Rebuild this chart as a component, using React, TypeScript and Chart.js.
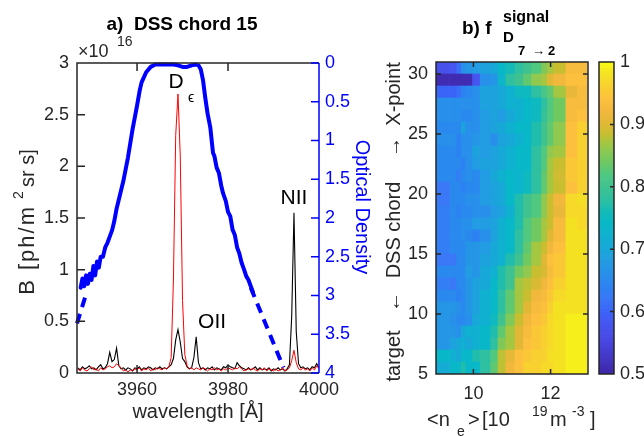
import React, { useEffect, useRef } from 'react';
import { Chart, registerables } from 'chart.js';

Chart.register(...registerables);

const FONT = '"Liberation Sans", Arial, Helvetica, sans-serif';
const AXIS = '#262626';
const BLUE = '#0000ff';

// ---------- panel a) spectrum ----------
const wavelengths = [
  3947, 3947.5, 3948, 3948.5, 3949, 3949.5, 3950, 3950.5, 3951, 3951.5,
  3952, 3952.5, 3953, 3953.5, 3954, 3954.5, 3955, 3955.5, 3956, 3956.5,
  3957, 3957.5, 3958, 3958.5, 3959, 3959.5, 3960, 3960.5, 3961, 3961.5,
  3962, 3962.5, 3963, 3963.5, 3964, 3964.5, 3965, 3965.5, 3966, 3966.5,
  3967, 3967.5, 3968, 3968.5, 3969, 3969.5, 3970, 3970.5, 3971, 3971.5,
  3972, 3972.5, 3973, 3973.5, 3974, 3974.5, 3975, 3975.5, 3976, 3976.5,
  3977, 3977.5, 3978, 3978.5, 3979, 3979.5, 3980, 3980.5, 3981, 3981.5,
  3982, 3982.5, 3983, 3983.5, 3984, 3984.5, 3985, 3985.5, 3986, 3986.5,
  3987, 3987.5, 3988, 3988.5, 3989, 3989.5, 3990, 3990.5, 3991, 3991.5,
  3992, 3992.5, 3993, 3993.5, 3994, 3994.5, 3995, 3995.5, 3996, 3996.5,
  3997, 3997.5, 3998, 3998.5, 3999, 3999.5, 4000,
];
const blackSpectrum = [
  0.05, 0.03, 0.06, 0.04, 0.05, 0.07, 0.04, 0.05, 0.03, 0.06,
  0.08, 0.04, 0.05, 0.09, 0.20, 0.11, 0.13, 0.24, 0.07, 0.04,
  0.05, 0.03, 0.05, 0.04, 0.02, 0.05, 0.04, 0.06, 0.03, 0.05,
  0.04, 0.06, 0.05, 0.03, 0.05, 0.04, 0.06, 0.04, 0.05, 0.04,
  0.06, 0.08, 0.14, 0.32, 0.42, 0.30, 0.14, 0.11, 0.06, 0.04,
  0.05, 0.15, 0.35, 0.10, 0.04, 0.05, 0.03, 0.05, 0.04, 0.06,
  0.03, 0.05, 0.04, 0.03, 0.06, 0.05, 0.08, 0.06, 0.05, 0.04,
  0.10, 0.07, 0.05, 0.04, 0.03, 0.05, 0.03, 0.04, 0.06, 0.03,
  0.05, 0.03, 0.04, 0.03, 0.05, 0.02, 0.04, 0.03, 0.05, 0.03,
  0.04, 0.02, 0.04, 0.08, 0.55, 1.55, 0.40, 0.09, 0.05, 0.06,
  0.04, 0.05, 0.03, 0.06, 0.05, 0.09, 0.05,
];
const redSpectrum = [
  0.04, 0.02, 0.05, 0.03, 0.02, 0.04, 0.06, 0.03, 0.04, 0.02,
  0.05, 0.03, 0.04, 0.06, 0.07, 0.05, 0.06, 0.09, 0.07, 0.05,
  0.02, 0.03, 0.01, 0.03, 0.02, 0.04, 0.03, 0.05, 0.02, 0.04,
  0.03, 0.05, 0.02, 0.04, 0.03, 0.05, 0.04, 0.03, 0.05, 0.04,
  0.06, 0.15, 0.90, 2.30, 2.70, 2.10, 0.70, 0.18, 0.07, 0.04,
  0.05, 0.03, 0.05, 0.04, 0.03, 0.05, 0.04, 0.02, 0.04, 0.03,
  0.05, 0.03, 0.04, 0.02, 0.04, 0.03, 0.05, 0.04, 0.03, 0.05,
  0.04, 0.06, 0.04, 0.02, 0.03, 0.04, 0.03, 0.05, 0.03, 0.02,
  0.04, 0.03, 0.05, 0.02, 0.04, 0.03, 0.02, 0.04, 0.02, 0.03,
  0.05, 0.02, 0.03, 0.05, 0.12, 0.22, 0.10, 0.04, 0.03, 0.05,
  0.03, 0.04, 0.02, 0.05, 0.03, 0.07, 0.04,
];
const odWavelengths = [
  3947.6, 3948.0, 3948.4, 3948.8, 3949.2, 3949.6, 3950.0, 3950.4, 3950.8, 3951.2,
  3951.6, 3952.0, 3952.5, 3953.0, 3953.5, 3954.0, 3954.5, 3955.0, 3955.5, 3956.0,
  3957.0, 3958.0, 3959.0, 3960.0, 3960.6, 3961.0, 3962.0, 3963.0, 3964.0, 3966.0,
  3968.0, 3969.0, 3970.0, 3971.0, 3972.0, 3973.0, 3973.5, 3974.0, 3974.5, 3975.0,
  3975.5, 3976.1, 3976.7, 3977.0, 3977.5, 3978.0, 3978.5, 3978.9, 3979.5, 3980.0,
  3980.5, 3981.0, 3981.5, 3982.0, 3982.5, 3983.0, 3983.5, 3984.0, 3984.5, 3985.0,
  3985.5,
];
const odValues = [
  2.90, 2.78, 2.88, 2.74, 2.85, 2.72, 2.80, 2.62, 2.74, 2.56,
  2.64, 2.50, 2.50, 2.38, 2.32, 2.24, 2.16, 2.04, 1.88, 1.76,
  1.52, 1.22, 0.86, 0.55, 0.35, 0.25, 0.12, 0.05, 0.02, 0.02,
  0.02, 0.03, 0.05, 0.05, 0.03, 0.02, 0.03, 0.08, 0.22, 0.45,
  0.65, 0.83, 1.16, 1.20, 1.35, 1.42, 1.58, 1.68, 1.78, 1.92,
  1.98, 2.15, 2.22, 2.38, 2.46, 2.58, 2.66, 2.75, 2.80, 2.88,
  2.96,
];
const odFitLeftWl = [3946.8, 3948.6];
const odFitLeftVal = [3.36, 3.02];
const odFitRightWl = [3985.0, 3992.2];
const odFitRightVal = [2.9, 3.93];
const wlTicks = [3960, 3980, 4000];
const bTicks = [0, 0.5, 1, 1.5, 2, 2.5, 3];
const odTicks = [0, 0.5, 1, 1.5, 2, 2.5, 3, 3.5, 4];

// ---------- panel b) heat map ----------
const densityEdges = [9.03, 9.38, 9.55, 9.67, 9.78, 9.96, 10.16, 10.43, 10.62, 10.82, 11.06, 11.28, 11.49, 11.75, 11.9, 12.06, 12.38, 12.68, 12.94];
const chords = [30, 29, 28, 27, 26, 25, 24, 23, 22, 21, 20, 19, 18, 17, 16, 15, 14, 13, 12, 11, 10, 9, 8, 7, 6, 5];
const fSignal = [
  [0.57, 0.58, 0.61, 0.66, 0.67, 0.68, 0.69, 0.70, 0.74, 0.76, 0.78, 0.80, 0.82, 0.85, 0.87, 0.885, 0.93, 0.93],
  [0.51, 0.51, 0.51, 0.51, 0.51, 0.58, 0.66, 0.67, 0.73, 0.78, 0.80, 0.83, 0.86, 0.87, 0.90, 0.92, 0.94, 0.94],
  [0.60, 0.60, 0.61, 0.64, 0.65, 0.66, 0.69, 0.69, 0.70, 0.72, 0.75, 0.75, 0.78, 0.81, 0.83, 0.87, 0.91, 0.93],
  [0.66, 0.66, 0.66, 0.66, 0.66, 0.66, 0.69, 0.69, 0.70, 0.72, 0.72, 0.74, 0.75, 0.78, 0.82, 0.84, 0.93, 0.93],
  [0.66, 0.66, 0.66, 0.65, 0.65, 0.66, 0.68, 0.69, 0.68, 0.70, 0.72, 0.74, 0.75, 0.79, 0.82, 0.84, 0.93, 0.94],
  [0.65, 0.65, 0.65, 0.69, 0.66, 0.66, 0.68, 0.69, 0.70, 0.72, 0.74, 0.74, 0.77, 0.80, 0.83, 0.86, 0.94, 0.96],
  [0.66, 0.66, 0.64, 0.66, 0.66, 0.67, 0.68, 0.66, 0.69, 0.70, 0.72, 0.74, 0.77, 0.80, 0.83, 0.86, 0.94, 0.96],
  [0.65, 0.65, 0.64, 0.66, 0.66, 0.69, 0.68, 0.69, 0.70, 0.72, 0.74, 0.74, 0.78, 0.82, 0.86, 0.87, 0.94, 0.96],
  [0.65, 0.65, 0.65, 0.64, 0.66, 0.68, 0.69, 0.69, 0.70, 0.72, 0.74, 0.74, 0.78, 0.82, 0.87, 0.885, 0.95, 0.96],
  [0.65, 0.65, 0.63, 0.65, 0.66, 0.65, 0.68, 0.70, 0.72, 0.74, 0.73, 0.75, 0.78, 0.83, 0.87, 0.89, 0.95, 0.96],
  [0.62, 0.65, 0.65, 0.64, 0.65, 0.65, 0.68, 0.69, 0.70, 0.74, 0.73, 0.75, 0.78, 0.83, 0.87, 0.885, 0.94, 0.96],
  [0.62, 0.65, 0.65, 0.65, 0.66, 0.66, 0.68, 0.69, 0.70, 0.74, 0.77, 0.80, 0.82, 0.86, 0.885, 0.92, 0.97, 0.975],
  [0.63, 0.65, 0.64, 0.65, 0.65, 0.66, 0.66, 0.68, 0.69, 0.72, 0.77, 0.80, 0.82, 0.86, 0.885, 0.91, 0.97, 0.97],
  [0.63, 0.65, 0.65, 0.66, 0.66, 0.68, 0.68, 0.69, 0.72, 0.74, 0.77, 0.82, 0.84, 0.87, 0.885, 0.93, 0.98, 0.97],
  [0.63, 0.65, 0.65, 0.66, 0.65, 0.64, 0.66, 0.69, 0.72, 0.74, 0.78, 0.82, 0.84, 0.87, 0.90, 0.93, 0.98, 0.98],
  [0.63, 0.65, 0.65, 0.65, 0.67, 0.67, 0.68, 0.70, 0.72, 0.74, 0.78, 0.83, 0.87, 0.885, 0.92, 0.94, 0.98, 0.98],
  [0.62, 0.62, 0.65, 0.65, 0.67, 0.67, 0.69, 0.70, 0.72, 0.77, 0.80, 0.84, 0.87, 0.90, 0.94, 0.95, 0.98, 0.98],
  [0.65, 0.65, 0.65, 0.65, 0.68, 0.67, 0.70, 0.72, 0.77, 0.80, 0.84, 0.86, 0.885, 0.895, 0.93, 0.95, 0.98, 0.98],
  [0.63, 0.62, 0.65, 0.65, 0.67, 0.69, 0.70, 0.74, 0.77, 0.80, 0.87, 0.88, 0.895, 0.92, 0.94, 0.96, 0.98, 0.98],
  [0.65, 0.65, 0.64, 0.65, 0.67, 0.69, 0.72, 0.74, 0.78, 0.83, 0.87, 0.885, 0.92, 0.93, 0.95, 0.97, 0.98, 0.98],
  [0.67, 0.67, 0.66, 0.65, 0.67, 0.69, 0.72, 0.74, 0.78, 0.83, 0.87, 0.90, 0.93, 0.94, 0.96, 0.98, 0.98, 0.98],
  [0.67, 0.66, 0.65, 0.65, 0.66, 0.70, 0.72, 0.75, 0.80, 0.85, 0.885, 0.92, 0.94, 0.95, 0.97, 0.98, 0.99, 0.99],
  [0.67, 0.67, 0.66, 0.70, 0.72, 0.72, 0.74, 0.77, 0.83, 0.87, 0.90, 0.93, 0.95, 0.96, 0.97, 0.98, 0.99, 0.99],
  [0.67, 0.69, 0.70, 0.72, 0.70, 0.72, 0.74, 0.78, 0.85, 0.87, 0.90, 0.94, 0.95, 0.96, 0.97, 0.98, 0.99, 0.99],
  [0.74, 0.72, 0.70, 0.74, 0.74, 0.77, 0.78, 0.82, 0.88, 0.905, 0.94, 0.95, 0.96, 0.96, 0.975, 0.98, 0.99, 0.99],
  [0.71, 0.74, 0.74, 0.77, 0.74, 0.74, 0.78, 0.83, 0.88, 0.92, 0.94, 0.96, 0.96, 0.97, 0.97, 0.98, 0.99, 0.99],
];
const densityTicks = [10, 12];
const chordTicks = [5, 10, 15, 20, 25, 30];
const colorbarTicks = [0.5, 0.6, 0.7, 0.8, 0.9, 1];

// parula-like colour map (value -> rgb)
const cmapStops = [0.5, 0.55, 0.58, 0.6, 0.62, 0.64, 0.66, 0.68, 0.7, 0.72, 0.74, 0.76, 0.78, 0.8, 0.82, 0.84, 0.86, 0.87, 0.885, 0.9, 0.92, 0.94, 0.96, 0.98, 1.0];
const cmapRGB = [
  [62, 38, 168], [72, 70, 225], [70, 85, 240], [58, 100, 248], [58, 120, 248], [44, 130, 242],
  [40, 144, 234], [34, 156, 226], [24, 168, 216], [16, 176, 208], [8, 184, 200], [20, 186, 184],
  [46, 192, 160], [64, 194, 144], [80, 200, 128], [112, 200, 96], [144, 200, 80], [164, 198, 64],
  [200, 190, 48], [224, 184, 54], [242, 184, 62], [252, 192, 62], [248, 208, 48], [244, 226, 34],
  [249, 251, 21],
];
function colorFor(v: number): string {
  if (v <= cmapStops[0]) return `rgb(${cmapRGB[0].join(',')})`;
  for (let i = 1; i < cmapStops.length; i++) {
    if (v <= cmapStops[i]) {
      const t = (v - cmapStops[i - 1]) / (cmapStops[i] - cmapStops[i - 1]);
      const a = cmapRGB[i - 1], b = cmapRGB[i];
      const c = a.map((q, k) => Math.round(q + (b[k] - q) * t));
      return `rgb(${c.join(',')})`;
    }
  }
  return `rgb(${cmapRGB[cmapRGB.length - 1].join(',')})`;
}

function txt(ctx: CanvasRenderingContext2D, s: string, x: number, y: number, font: string,
  color = '#000', align: CanvasTextAlign = 'center', rot = 0, spacing = 0) {
  ctx.save();
  ctx.translate(x, y);
  if (rot) ctx.rotate(rot);
  ctx.font = font;
  ctx.fillStyle = color;
  ctx.textAlign = align;
  ctx.textBaseline = 'middle';
  if (spacing) (ctx as any).letterSpacing = `${spacing}px`;
  ctx.fillText(s, 0, 0);
  ctx.restore();
}

const f = (size: number, bold = false) => `${bold ? 'bold ' : ''}${size}px ${FONT}`;

const leftDecor = {
  id: 'leftDecor',
  afterDraw(chart: any) {
    const { ctx, chartArea: a, scales } = chart;
    const x = scales.x, y = scales.y, y2 = scales.y2;
    ctx.save();
    ctx.lineWidth = 1.5;
    ctx.strokeStyle = AXIS;
    ctx.beginPath();
    ctx.moveTo(a.right, a.top); ctx.lineTo(a.left, a.top); ctx.lineTo(a.left, a.bottom); ctx.lineTo(a.right, a.bottom);
    for (const v of wlTicks) {
      const px = x.getPixelForValue(v);
      if (px < a.right - 2) {
        ctx.moveTo(px, a.bottom); ctx.lineTo(px, a.bottom - 8);
        ctx.moveTo(px, a.top); ctx.lineTo(px, a.top + 8);
      }
    }
    for (const v of bTicks) {
      const py = y.getPixelForValue(v);
      ctx.moveTo(a.left, py); ctx.lineTo(a.left + 8, py);
    }
    ctx.stroke();
    ctx.strokeStyle = BLUE;
    ctx.beginPath();
    ctx.moveTo(a.right, a.top); ctx.lineTo(a.right, a.bottom);
    for (const v of odTicks) {
      const py = y2.getPixelForValue(v);
      ctx.moveTo(a.right, py); ctx.lineTo(a.right - 8, py);
    }
    ctx.stroke();
    ctx.restore();

    // titles and labels
    txt(ctx, 'a)  DSS chord 15', 182, 25, f(19, true));
    txt(ctx, '\u00d710', 78, 52, f(18), AXIS, 'left');
    txt(ctx, '16', 117, 42, f(14), AXIS, 'left');
    txt(ctx, 'B [ph/m', 28, 205, f(22), AXIS, 'right', -Math.PI / 2, 2);
    txt(ctx, '2', 19, 195, f(14), AXIS, 'center', -Math.PI / 2);
    txt(ctx, 'sr s]', 28, 168, f(20), AXIS, 'center', -Math.PI / 2);
    txt(ctx, 'wavelength [\u00c5]', 198, 412, f(20), AXIS);
    txt(ctx, 'Optical Density', 362, 207, f(20), BLUE, 'center', Math.PI / 2);
    // line labels at data positions
    txt(ctx, 'D', x.getPixelForValue(3968.6), y.getPixelForValue(2.81), f(21));
    txt(ctx, '\u03f5', x.getPixelForValue(3971.9), y.getPixelForValue(2.66), f(14));
    txt(ctx, 'OII', x.getPixelForValue(3976.5), y.getPixelForValue(0.49), f(21));
    txt(ctx, 'NII', x.getPixelForValue(3994.5), y.getPixelForValue(1.69), f(21));
  },
};

const heatDecor = {
  id: 'heatDecor',
  afterDraw(chart: any) {
    const { ctx, chartArea: a, scales } = chart;
    const x = scales.x, y = scales.y;
    ctx.save();
    ctx.lineWidth = 1.5;
    ctx.strokeStyle = AXIS;
    ctx.beginPath();
    ctx.rect(a.left, a.top, a.right - a.left, a.bottom - a.top);
    for (const v of densityTicks) {
      const px = x.getPixelForValue(v);
      ctx.moveTo(px, a.bottom); ctx.lineTo(px, a.bottom - 5);
      ctx.moveTo(px, a.top); ctx.lineTo(px, a.top + 5);
    }
    for (const v of chordTicks) {
      const py = y.getPixelForValue(v);
      ctx.moveTo(a.left, py); ctx.lineTo(a.left + 5, py);
      ctx.moveTo(a.right, py); ctx.lineTo(a.right - 5, py);
    }
    ctx.stroke();
    ctx.restore();

    // title b) f^signal_{D 7->2}
    txt(ctx, 'b) f', 82, 29, f(19, true), '#000', 'left');
    txt(ctx, 'signal', 123, 18, f(16, true), '#000', 'left');
    txt(ctx, 'D', 123, 38, f(15, true), '#000', 'left');
    txt(ctx, '7', 138, 51, f(13, true), '#000', 'left');
    txt(ctx, '\u2192', 152, 51, f(13), '#000', 'left');
    txt(ctx, '2', 168, 51, f(13, true), '#000', 'left');
    // y label
    const R = -Math.PI / 2;
    txt(ctx, 'X-point', 14, 94, f(20), AXIS, 'center', R);
    txt(ctx, '\u2192', 14, 147, f(20), AXIS, 'center', R);
    txt(ctx, 'DSS chord', 14, 230, f(20), AXIS, 'center', R);
    txt(ctx, '\u2190', 14, 302, f(20), AXIS, 'center', R);
    txt(ctx, 'target', 14, 356, f(20), AXIS, 'center', R);
    // x label <n_e> [10^19 m^-3]
    txt(ctx, '<n', 47, 420, f(20), AXIS, 'left');
    txt(ctx, 'e', 77, 432, f(14), AXIS, 'left');
    txt(ctx, '>', 88, 420, f(20), AXIS, 'left');
    txt(ctx, '[10', 102, 420, f(20), AXIS, 'left');
    txt(ctx, '19', 152, 412, f(14), AXIS, 'left');
    txt(ctx, 'm', 170, 420, f(20), AXIS, 'left');
    txt(ctx, '-3', 192, 412, f(14), AXIS, 'left');
    txt(ctx, ']', 210, 420, f(20), AXIS, 'left');
  },
};

const cbDecor = {
  id: 'cbDecor',
  afterDraw(chart: any) {
    const { ctx, chartArea: a, scales } = chart;
    const y = scales.y;
    ctx.save();
    ctx.lineWidth = 1.5;
    ctx.strokeStyle = AXIS;
    ctx.beginPath();
    ctx.rect(a.left, a.top, a.right - a.left, a.bottom - a.top);
    for (const v of colorbarTicks) {
      const py = y.getPixelForValue(v);
      ctx.moveTo(a.right, py); ctx.lineTo(a.right - 4, py);
    }
    ctx.stroke();
    ctx.restore();
  },
};

export default function App() {
  const leftRef = useRef<HTMLCanvasElement>(null);
  const heatRef = useRef<HTMLCanvasElement>(null);
  const cbRef = useRef<HTMLCanvasElement>(null);

  useEffect(() => {
    const tickFont = { family: FONT, size: 18 };
    const toPts = (xs: number[], ys: number[]) => xs.map((v, i) => ({ x: v, y: ys[i] }));

    const left = new Chart(leftRef.current as HTMLCanvasElement, {
      type: 'line',
      data: {
        datasets: [
          { data: toPts(wavelengths, redSpectrum), borderColor: '#ff0000', borderWidth: 1, pointRadius: 0, yAxisID: 'y' },
          { data: toPts(wavelengths, blackSpectrum), borderColor: '#000000', borderWidth: 1.1, pointRadius: 0, yAxisID: 'y' },
          { data: toPts(odWavelengths, odValues), borderColor: BLUE, borderWidth: 4, pointRadius: 0, yAxisID: 'y2', clip: false as any, borderJoinStyle: 'round', borderCapStyle: 'round' },
          { data: toPts(odFitLeftWl, odFitLeftVal), borderColor: BLUE, borderWidth: 4, borderDash: [10, 7], pointRadius: 0, yAxisID: 'y2', clip: false as any },
          { data: toPts(odFitRightWl, odFitRightVal), borderColor: BLUE, borderWidth: 4, borderDash: [10, 7], pointRadius: 0, yAxisID: 'y2', clip: false as any },
        ] as any,
      },
      options: {
        responsive: false,
        animation: false,
        devicePixelRatio: 1,
        layout: { padding: { top: 63, left: 0, right: 0, bottom: 0 } },
        plugins: { legend: { display: false }, tooltip: { enabled: false }, title: { display: false } },
        elements: { line: { tension: 0 } },
        scales: {
          x: {
            type: 'linear', min: 3946.8, max: 4000,
            afterBuildTicks: (s: any) => { s.ticks = wlTicks.map((v) => ({ value: v })); },
            afterFit: (s: any) => { s.height = 63; },
            ticks: { font: tickFont, color: AXIS, padding: 6, maxRotation: 0, autoSkip: false, callback: (v: any) => String(v) },
            grid: { display: false, drawTicks: false },
            border: { display: false },
          },
          y: {
            type: 'linear', position: 'left', min: 0, max: 3,
            afterBuildTicks: (s: any) => { s.ticks = bTicks.map((v) => ({ value: v })); },
            afterFit: (s: any) => { s.width = 77; },
            ticks: { font: tickFont, color: AXIS, padding: 8, autoSkip: false, callback: (v: any) => String(v) },
            grid: { display: false, drawTicks: false },
            border: { display: false },
          },
          y2: {
            type: 'linear', position: 'right', min: 0, max: 4, reverse: true,
            afterBuildTicks: (s: any) => { s.ticks = odTicks.map((v) => ({ value: v })); },
            afterFit: (s: any) => { s.width = 71; },
            ticks: { font: tickFont, color: BLUE, padding: 6, autoSkip: false, callback: (v: any) => String(v) },
            grid: { display: false, drawTicks: false },
            border: { display: false },
          },
        },
      } as any,
      plugins: [leftDecor],
    });

    const heatDatasets = densityEdges.slice(0, -1).map((lo, c) => ({
      data: chords.map((ch) => ({ x: [lo, densityEdges[c + 1]], y: ch + 0.5 })),
      backgroundColor: chords.map((_, r) => colorFor(fSignal[r][c])),
      borderWidth: 0,
      grouped: false,
      barPercentage: 1,
      categoryPercentage: 1,
    }));

    const heat = new Chart(heatRef.current as HTMLCanvasElement, {
      type: 'bar',
      data: { datasets: heatDatasets as any },
      options: {
        responsive: false,
        animation: false,
        devicePixelRatio: 1,
        indexAxis: 'y',
        layout: { padding: { top: 62, left: 0, right: 56, bottom: 0 } },
        plugins: { legend: { display: false }, tooltip: { enabled: false }, title: { display: false } },
        scales: {
          x: {
            type: 'linear', min: 9.03, max: 12.97, offset: false,
            afterBuildTicks: (s: any) => { s.ticks = densityTicks.map((v) => ({ value: v })); },
            afterFit: (s: any) => { s.height = 62; },
            ticks: { font: tickFont, color: AXIS, padding: 9, maxRotation: 0, autoSkip: false, callback: (v: any) => String(v) },
            grid: { display: false, drawTicks: false, offset: false },
            border: { display: false },
          },
          y: {
            type: 'linear', min: 5, max: 31, offset: false,
            afterBuildTicks: (s: any) => { s.ticks = chordTicks.map((v) => ({ value: v })); },
            afterFit: (s: any) => { s.width = 56; },
            ticks: { font: tickFont, color: AXIS, padding: 8, autoSkip: false, callback: (v: any) => String(v) },
            grid: { display: false, drawTicks: false, offset: false },
            border: { display: false },
          },
        },
      } as any,
      plugins: [heatDecor],
    });

    const cbStep = 0.005;
    const cbLevels: number[] = [];
    for (let v = 0.5; v < 1 - 1e-9; v += cbStep) cbLevels.push(Math.round(v * 1000) / 1000);
    const cb = new Chart(cbRef.current as HTMLCanvasElement, {
      type: 'bar',
      data: {
        labels: ['cb'],
        datasets: cbLevels.map((l) => ({
          data: [[l, l + cbStep]],
          backgroundColor: colorFor(l + cbStep / 2),
          borderWidth: 0,
          grouped: false,
          barPercentage: 1,
          categoryPercentage: 1,
        })) as any,
      },
      options: {
        responsive: false,
        animation: false,
        devicePixelRatio: 1,
        layout: { padding: { top: 62, left: 9, right: 0, bottom: 62 } },
        plugins: { legend: { display: false }, tooltip: { enabled: false }, title: { display: false } },
        scales: {
          x: { display: false },
          y: {
            position: 'right', min: 0.5, max: 1,
            afterBuildTicks: (s: any) => { s.ticks = colorbarTicks.map((v) => ({ value: v })); },
            afterFit: (s: any) => { s.width = 30; },
            ticks: { font: tickFont, color: AXIS, padding: 6, autoSkip: false, callback: (v: any) => String(v) },
            grid: { display: false, drawTicks: false },
            border: { display: false },
          },
        },
      } as any,
      plugins: [cbDecor],
    });

    return () => { left.destroy(); heat.destroy(); cb.destroy(); };
  }, []);

  return (
    <div style={{ position: 'fixed', left: 0, top: 0, width: 644, height: 436, background: '#fff', overflow: 'hidden' }}>
      <canvas ref={leftRef} width={390} height={436} style={{ position: 'absolute', left: 0, top: 0, width: 390, height: 436 }} />
      <canvas ref={heatRef} width={264} height={436} style={{ position: 'absolute', left: 380, top: 0, width: 264, height: 436 }} />
      <canvas ref={cbRef} width={54} height={436} style={{ position: 'absolute', left: 590, top: 0, width: 54, height: 436 }} />
    </div>
  );
}
